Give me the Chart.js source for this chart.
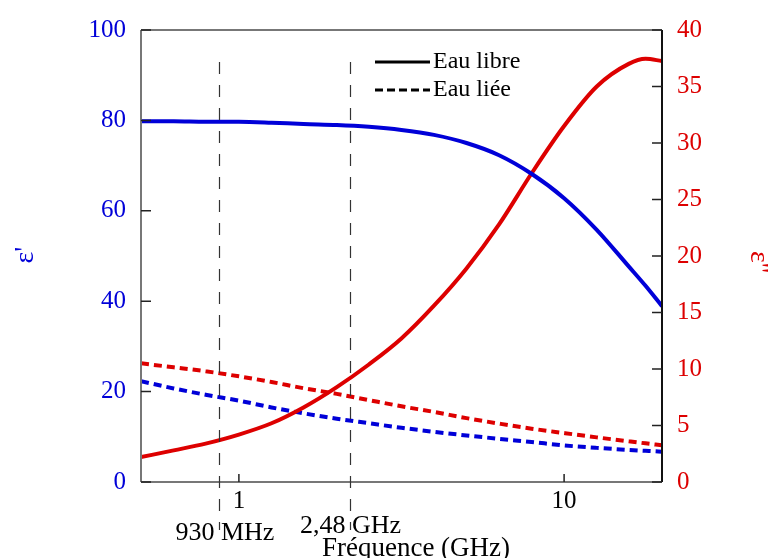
<!DOCTYPE html>
<html>
<head>
<meta charset="utf-8">
<script src="https://cdn.jsdelivr.net/npm/chart.js@4"></script>
<style>
  html, body { margin: 0; padding: 0; background: #fff; }
  #wrap { width: 768px; height: 558px; }
</style>
</head>
<body>
<div id="wrap"><canvas id="chart" width="768" height="558"></canvas></div>
<script>
// frequency in GHz (log axis)
const freqs = [0.5, 0.63, 0.79, 1, 1.26, 1.58, 2, 2.51, 3.16, 3.98, 5.01, 6.31, 7.94, 10, 12.6, 15.8, 17.8, 20];
// eau libre
const epsFreeReal = [79.8, 79.8, 79.7, 79.7, 79.5, 79.2, 79.0, 78.6, 77.9, 76.8, 75.0, 72.3, 68.2, 62.8, 55.8, 47.7, 43.4, 38.9];
const epsFreeImag = [2.2, 2.8, 3.4, 4.2, 5.2, 6.6, 8.4, 10.4, 12.7, 15.6, 18.9, 22.8, 27.3, 31.5, 35.0, 37.0, 37.45, 37.25];
// eau liée
const epsBoundReal = [22.3, 20.7, 19.3, 18.0, 16.5, 15.2, 14.0, 13.0, 12.0, 11.1, 10.3, 9.55, 8.85, 8.1, 7.55, 7.1, 6.9, 6.7];
const epsBoundImag = [10.5, 10.15, 9.8, 9.35, 8.85, 8.3, 7.8, 7.25, 6.7, 6.2, 5.65, 5.17, 4.72, 4.33, 3.95, 3.6, 3.42, 3.25];

const xTicks = [1, 10];
const markerFreqs = [0.868, 2.19];
const markerLabels = ['930 MHz', '2,48 GHz'];
const legendLabels = ['Eau libre', 'Eau liée'];

const BLUE = '#0000d8';
const RED = '#dd0000';
const SERIF = '"Liberation Serif", "DejaVu Serif", serif';

const pts = (ys) => freqs.map((f, i) => ({x: f, y: ys[i]}));

const decor = {
  id: 'decor',
  afterDraw(chart) {
    const {ctx, chartArea: a, scales} = chart;
    const x = scales.x, y = scales.y, y1 = scales.y1;
    ctx.save();

    // frame
    ctx.lineWidth = 2;
    ctx.strokeStyle = '#777';
    ctx.beginPath();
    ctx.moveTo(a.left, a.top); ctx.lineTo(a.right, a.top);
    ctx.moveTo(a.left, a.top); ctx.lineTo(a.left, a.bottom);
    ctx.moveTo(a.left, a.bottom); ctx.lineTo(a.right, a.bottom);
    ctx.stroke();
    ctx.strokeStyle = '#111';
    ctx.beginPath();
    ctx.moveTo(a.right, a.top); ctx.lineTo(a.right, a.bottom);
    ctx.stroke();

    // inward ticks
    ctx.lineWidth = 1.5;
    ctx.strokeStyle = '#222';
    ctx.beginPath();
    y.ticks.forEach(t => {
      const p = y.getPixelForValue(t.value);
      ctx.moveTo(a.left, p); ctx.lineTo(a.left + 10, p);
    });
    y1.ticks.forEach(t => {
      const p = y1.getPixelForValue(t.value);
      ctx.moveTo(a.right, p); ctx.lineTo(a.right - 10, p);
    });
    xTicks.forEach(v => {
      const p = x.getPixelForValue(v);
      ctx.moveTo(p, a.bottom); ctx.lineTo(p, a.bottom - 8);
    });
    ctx.stroke();

    // frequency markers
    ctx.lineWidth = 1.2;
    ctx.strokeStyle = '#333';
    ctx.setLineDash([12, 11]);
    markerFreqs.forEach(f => {
      const p = Math.round(x.getPixelForValue(f)) + 0.5;
      ctx.beginPath();
      ctx.moveTo(p, 62); ctx.lineTo(p, 530);
      ctx.stroke();
    });
    ctx.setLineDash([]);
    ctx.fillStyle = '#000';
    ctx.font = '26px ' + SERIF;
    ctx.textAlign = 'center';
    ctx.textBaseline = 'alphabetic';
    ctx.fillText(markerLabels[0], x.getPixelForValue(markerFreqs[0]) + 6, 540);
    ctx.fillText(markerLabels[1], x.getPixelForValue(markerFreqs[1]) + 1, 533);

    // axis title
    ctx.font = '27px ' + SERIF;
    ctx.fillText('Fréquence (GHz)', 416, 556);

    // y titles
    ctx.font = '28px ' + SERIF;
    ctx.fillStyle = BLUE;
    ctx.save();
    ctx.translate(26, 255);
    ctx.rotate(-Math.PI / 2);
    ctx.textBaseline = 'middle';
    ctx.fillText("ε'", 0, 0);
    ctx.restore();
    ctx.fillStyle = RED;
    ctx.save();
    ctx.translate(758, 262);
    ctx.rotate(Math.PI / 2);
    ctx.textBaseline = 'middle';
    ctx.fillText("ε''", 0, 0);
    ctx.restore();

    // legend
    ctx.strokeStyle = '#000';
    ctx.lineWidth = 3;
    ctx.beginPath();
    ctx.moveTo(375, 62); ctx.lineTo(430, 62);
    ctx.stroke();
    ctx.setLineDash([8, 4]);
    ctx.beginPath();
    ctx.moveTo(375, 90); ctx.lineTo(430, 90);
    ctx.stroke();
    ctx.setLineDash([]);
    ctx.fillStyle = '#000';
    ctx.font = '24px ' + SERIF;
    ctx.textAlign = 'left';
    ctx.textBaseline = 'middle';
    ctx.fillText(legendLabels[0], 433, 62);
    ctx.fillText(legendLabels[1], 433, 90);

    ctx.restore();
  }
};

const line = (label, ys, color, axis, dashed) => ({
  label: label,
  data: pts(ys),
  borderColor: color,
  backgroundColor: color,
  borderWidth: 4,
  borderDash: dashed ? [8, 5] : [],
  pointRadius: 0,
  cubicInterpolationMode: 'monotone',
  yAxisID: axis
});

new Chart(document.getElementById('chart'), {
  type: 'line',
  data: {
    datasets: [
      line("ε' libre", epsFreeReal, BLUE, 'y', false),
      line("ε'' libre", epsFreeImag, RED, 'y1', false),
      line("ε' liée", epsBoundReal, BLUE, 'y', true),
      line("ε'' liée", epsBoundImag, RED, 'y1', true)
    ]
  },
  options: {
    responsive: false,
    animation: false,
    layout: { padding: { top: 27, left: 0, right: 0, bottom: 0 } },
    plugins: { legend: { display: false }, tooltip: { enabled: false } },
    scales: {
      x: {
        type: 'logarithmic',
        min: 0.5,
        max: 20,
        afterBuildTicks: (s) => { s.ticks = xTicks.map(v => ({value: v})); },
        afterFit: (s) => { s.height = 76; },
        grid: { display: false, drawTicks: false },
        border: { display: false },
        ticks: {
          color: '#000',
          font: { family: SERIF, size: 25 },
          padding: 4,
          maxRotation: 0,
          autoSkip: false,
          callback: (v) => String(v)
        }
      },
      y: {
        position: 'left',
        min: 0,
        max: 100,
        afterFit: (s) => { s.width = 141; },
        grid: { display: false, drawTicks: false },
        border: { display: false },
        ticks: { stepSize: 20, color: BLUE, padding: 15, font: { family: SERIF, size: 25 } }
      },
      y1: {
        position: 'right',
        min: 0,
        max: 40,
        afterFit: (s) => { s.width = 106; },
        grid: { display: false, drawTicks: false },
        border: { display: false },
        ticks: { stepSize: 5, color: RED, padding: 15, font: { family: SERIF, size: 25 } }
      }
    }
  },
  plugins: [decor]
});
</script>
</body>
</html>
